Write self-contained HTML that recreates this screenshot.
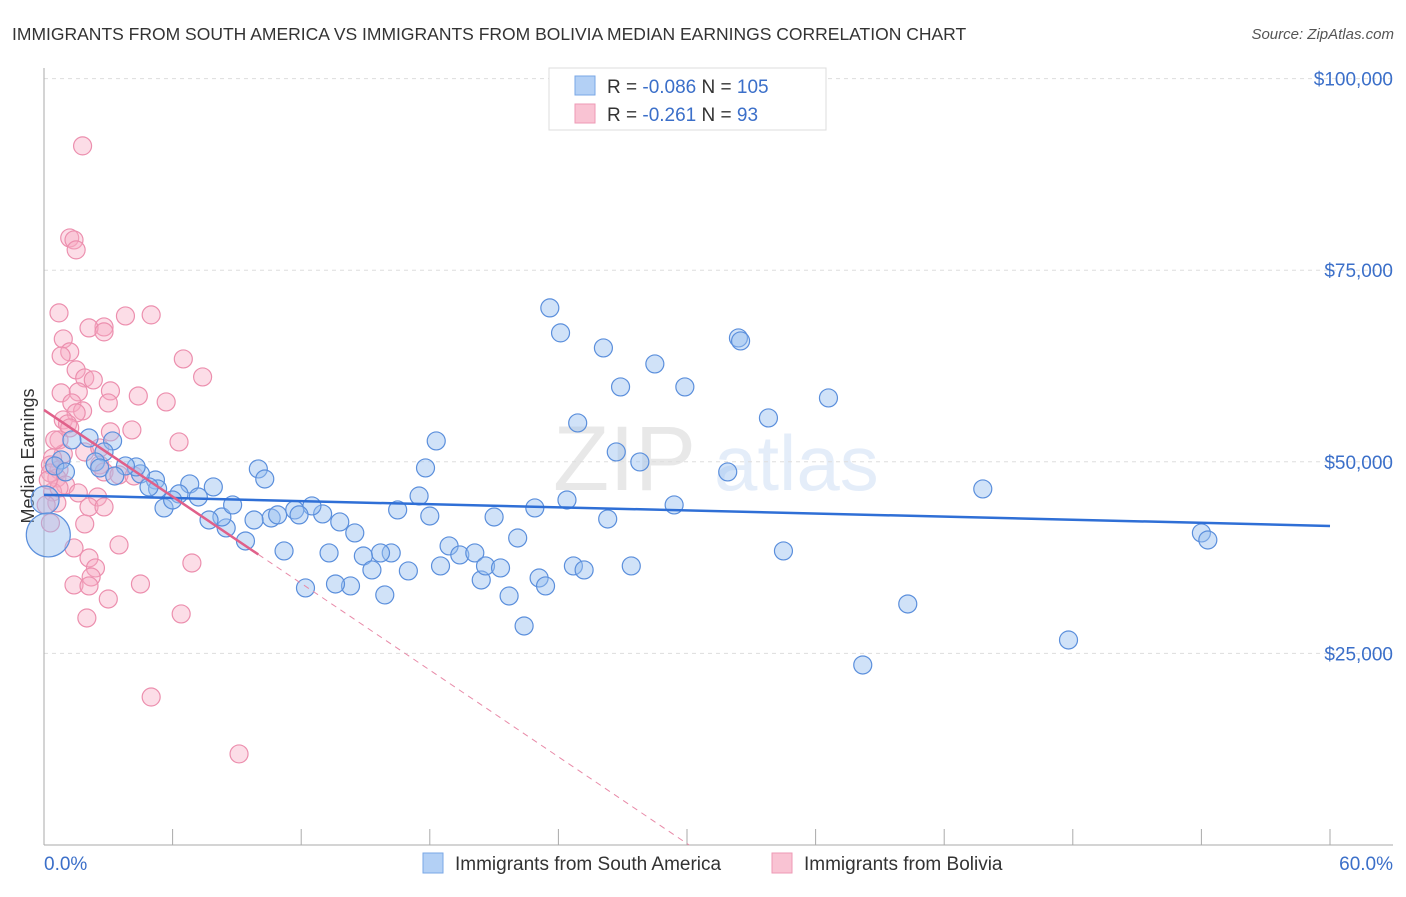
<!DOCTYPE html>
<html><head><meta charset="utf-8"><style>
body{margin:0;background:#fff;font-family:"Liberation Sans",sans-serif}
svg text{font-family:"Liberation Sans",sans-serif}
</style></head><body>
<svg id="chart" width="1406" height="892" xmlns="http://www.w3.org/2000/svg">
<text x="12" y="40" font-size="17.5" fill="#333">IMMIGRANTS FROM SOUTH AMERICA VS IMMIGRANTS FROM BOLIVIA MEDIAN EARNINGS CORRELATION CHART</text>
<text x="1394" y="39" font-size="15" fill="#555" text-anchor="end" font-style="italic">Source: ZipAtlas.com</text>
<text transform="translate(34,456) rotate(-90)" font-size="18" fill="#333" text-anchor="middle">Median Earnings</text>
<g opacity="0.13"><text x="553" y="490" font-size="92" font-family="Liberation Serif" fill="#555">ZIP</text><text x="714" y="490" font-size="78" fill="#3b78d8">atlas</text></g>
<g id="grid"></g><g id="axes"></g><g id="pts"></g><g id="trends"></g>
<g>
<rect x="549" y="68" width="277" height="62" fill="#fff" stroke="#ddd"/>
<rect x="575" y="76" width="20" height="19" fill="#b3d0f5" stroke="#7aa7e6"/>
<text x="607" y="93" font-size="19" fill="#333">R = <tspan fill="#3b6fc9">-0.086</tspan>   N = <tspan fill="#3b6fc9">105</tspan></text>
<rect x="575" y="104" width="20" height="19" fill="#f9c3d3" stroke="#ee9ab4"/>
<text x="607" y="121" font-size="19" fill="#333">R =  <tspan fill="#3b6fc9">-0.261</tspan>   N =  <tspan fill="#3b6fc9"> 93</tspan></text>
</g>
<g>
<rect x="423" y="853" width="20" height="20" fill="#b3d0f5" stroke="#7aa7e6"/>
<text x="455" y="870" font-size="19" fill="#333">Immigrants from South America</text>
<rect x="772" y="853" width="20" height="20" fill="#f9c3d3" stroke="#ee9ab4"/>
<text x="804" y="870" font-size="19" fill="#333">Immigrants from Bolivia</text>
</g>
</svg>
<script>
const yTicks=[25000,50000,75000,100000];
const yTickLabels=["$25,000","$50,000","$75,000","$100,000"];
const xTickLabels=["0.0%","60.0%"];
const blueX=[23.6,24.1,26.1,28.5,26.9,29.9,32.4,32.5,36.6,33.8,24.9,18.3,26.7,27.8,31.9,43.8,54.0,54.3,34.5,40.3,47.8,38.2,22.4,21.7,20.4,17.5,17.8,18.0,16.5,21.0,22.9,24.4,26.3,29.4,22.1,18.9,19.4,20.1,18.5,20.6,21.3,23.1,23.4,24.7,25.2,27.4,17.0,16.2,15.7,14.9,15.3,14.3,13.6,15.9,12.2,11.2,13.3,14.5,13.8,13.0,12.5,11.7,10.6,10.9,9.8,9.4,8.5,8.3,7.7,8.8,7.9,6.8,7.2,6.3,5.6,6.0,5.2,5.3,4.5,4.3,3.8,3.2,2.8,2.4,2.1,1.3,0.8,0.5,1.0,0.05,0.2,10.0,10.3,4.9,2.6,3.3,11.9];
const blueY=[70080,66820,64860,62770,59770,59770,66160,65770,58330,55720,55070,52720,51290,49980,48680,46460,40720,39800,38370,31450,26750,23490,28580,32490,34580,45540,49200,42930,43720,42800,43980,45020,42540,44370,40060,39020,37850,38110,36410,36410,36150,34840,33800,36410,35890,36410,35760,38110,38110,37710,35890,33800,34060,32630,33540,38370,38110,40720,42150,43200,44240,43720,42670,43070,42410,39670,41370,42800,42410,44370,46720,47110,45410,45810,43980,45020,47630,46460,48420,49330,49460,52720,51290,49980,53110,52850,50240,49460,48680,45020,40460,49070,47760,46720,49200,48150,43070];
const pinkX=[1.8,1.2,1.4,1.5,0.7,3.8,5.0,2.8,2.1,2.8,0.9,1.2,0.8,6.5,7.4,1.5,1.9,2.3,1.6,3.1,0.8,1.3,4.4,5.7,3.0,1.8,1.5,0.9,1.1,1.2,3.1,4.1,0.7,1.9,0.9,0.4,2.6,6.3,0.3,0.7,0.6,1.0,2.6,2.8,3.5,4.2,0.4,0.7,1.6,2.5,0.6,2.1,2.8,0.1,0.3,1.9,3.5,1.4,2.1,2.4,2.2,1.4,2.1,4.5,3.0,2.0,6.4,6.9,5.0,9.1,0.3,0.5,0.2];
const pinkY=[91220,79210,78950,77650,69430,69030,69170,67600,67470,66950,66030,64340,63810,63420,61070,61990,60940,60680,59120,59250,58990,57680,58590,57810,57680,56640,56380,55460,54940,54420,53900,54160,52850,51290,51030,50500,51810,52590,49590,48940,47890,46980,49590,48680,48290,48150,46070,46590,45940,45410,44630,44110,44110,44370,42020,41890,39150,38760,37450,36150,34970,33930,33800,34060,32100,29620,30150,36800,19310,11880,48550,52850,47630];
const blueTrend=[45680,41630];
const pinkTrend=[56770,-1886];
const NS="http://www.w3.org/2000/svg";
const X0=44,X1=1330,Y0=845,PX=191.6/25000;
const sx=v=>X0+(v/60)*(X1-X0), sy=v=>Y0-v*PX;
function mk(tag,attrs,parent){const e=document.createElementNS(NS,tag);for(const k in attrs)e.setAttribute(k,attrs[k]);document.getElementById(parent).appendChild(e);return e;}
yTicks.forEach((t,i)=>{
 const g=mk('line',{x1:X0,x2:1393,y1:sy(t),y2:sy(t),stroke:'#ddd','stroke-dasharray':'4,4'},'grid');
 
 
 const l=mk('text',{x:1393,y:sy(t)+7,'font-size':19,fill:'#3b6fc9','text-anchor':'end'},'axes');
 l.textContent=yTickLabels[i];
 
 
});
mk('line',{x1:X0,x2:X0,y1:68,y2:Y0,stroke:'#aaa'},'axes');
mk('line',{x1:X0,x2:1393,y1:Y0,y2:Y0,stroke:'#aaa'},'axes');
for(let i=0;i<=10;i++){mk('line',{x1:sx(i*6),x2:sx(i*6),y1:Y0,y2:Y0-16,stroke:'#aaa'},'axes');}
const xl0=mk('text',{x:X0,y:870,'font-size':19,fill:'#3b6fc9'},'axes');xl0.textContent=xTickLabels[0];


const xl1=mk('text',{x:1393,y:870,'font-size':19,fill:'#3b6fc9','text-anchor':'end'},'axes');xl1.textContent=xTickLabels[1];


pinkX.forEach((x,i)=>{const c=mk('circle',{cx:sx(x),cy:sy(pinkY[i]),r:9,fill:'rgba(247,170,195,0.4)',stroke:'#ec8fae','stroke-width':1.2},'pts');
 
 });
blueX.forEach((x,i)=>{const r=i==89?14:(i==90?22:9);const c=mk('circle',{cx:sx(x),cy:sy(blueY[i]),r:r,fill:'rgba(150,190,240,0.45)',stroke:'#5b8fdc','stroke-width':1.2},'pts');
 
 });
const bt=mk('line',{x1:sx(0),y1:sy(blueTrend[0]),x2:sx(60),y2:sy(blueTrend[1]),stroke:'#2f6fd6','stroke-width':2.5},'trends');


const pf=x=>pinkTrend[0]+pinkTrend[1]*x;
const xe=-pinkTrend[0]/pinkTrend[1];
const pt=mk('line',{x1:sx(0),y1:sy(pf(0)),x2:sx(10),y2:sy(pf(10)),stroke:'#e0608a','stroke-width':2.5},'trends');


const pd=mk('line',{x1:sx(10),y1:sy(pf(10)),x2:sx(xe),y2:sy(0),stroke:'#e88aa8','stroke-width':1,'stroke-dasharray':'6,5'},'trends');


</script>
</body></html>
